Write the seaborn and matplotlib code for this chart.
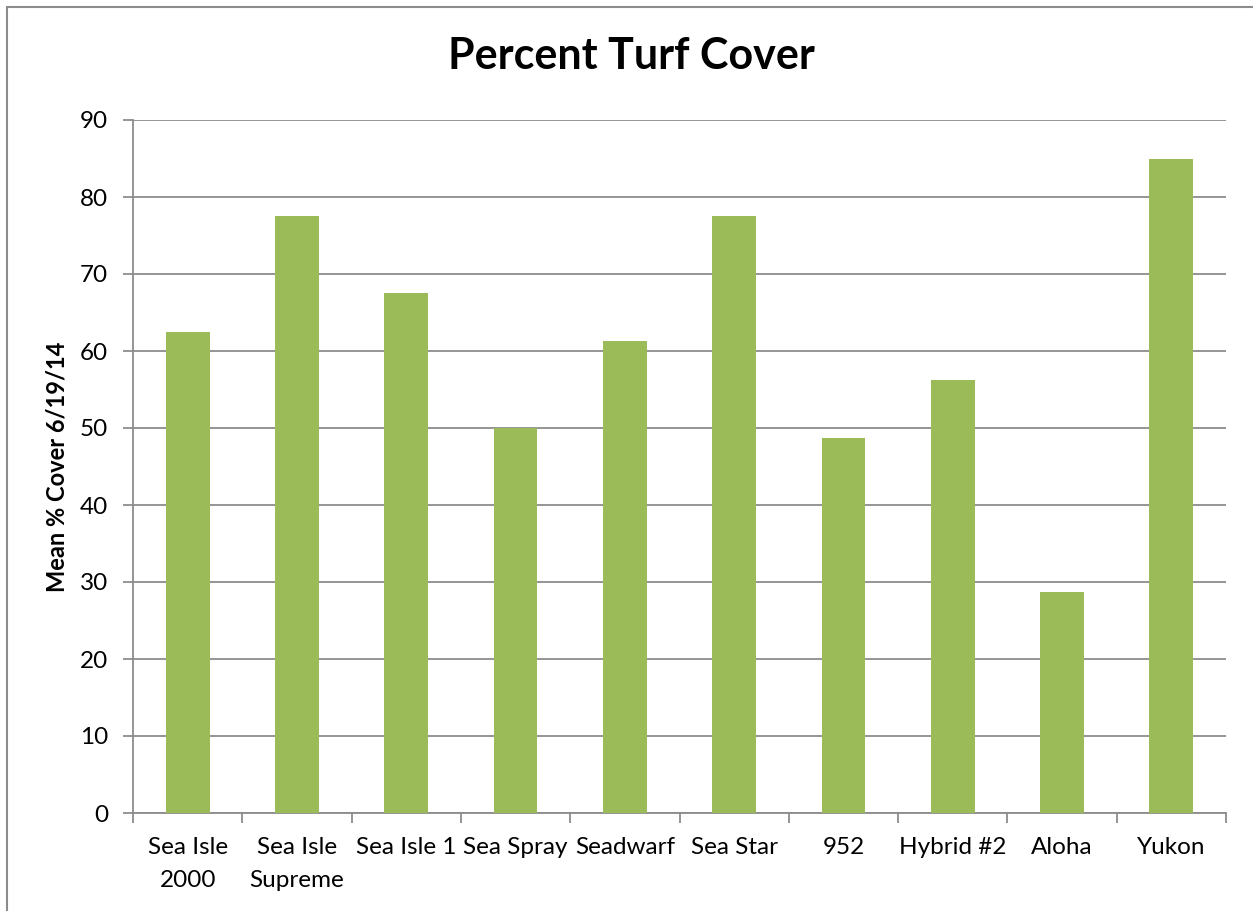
import matplotlib
matplotlib.use("Agg")
import matplotlib.pyplot as plt
import seaborn as sns
import pandas as pd
from matplotlib.patches import Rectangle
from matplotlib.ticker import FixedLocator

categories = ["Sea Isle\n2000", "Sea Isle\nSupreme", "Sea Isle 1", "Sea Spray", "Seadwarf",
              "Sea Star", "952", "Hybrid #2", "Aloha", "Yukon"]
values = [62.5, 77.5, 67.5, 50.0, 61.25, 77.5, 48.75, 56.25, 28.75, 85.0]
yticks = [0, 10, 20, 30, 40, 50, 60, 70, 80, 90]

title = "Percent Turf Cover"
ylabel = "Mean % Cover 6/19/14"

sns.set_theme(style="white")
plt.rcParams["font.family"] = ["Lato", "DejaVu Sans"]

W, H = 1253, 911
fig = plt.figure(figsize=(W / 100, H / 100), dpi=100)
ax = fig.add_axes([133 / W, (H - 813) / H, (1226 - 133) / W, (813 - 120) / H])

df = pd.DataFrame({"cat": categories, "val": values})
sns.barplot(data=df, x="cat", y="val", color="#9BBB59", saturation=1, width=0.4, ax=ax,
            zorder=3, linewidth=0)

ax.set_xlim(-0.5, len(categories) - 0.5)
ax.set_ylim(0, 90)
ax.set_yticks(yticks)
ax.yaxis.grid(True, color="#8c8c8c", linewidth=1.3, zorder=0)
ax.set_axisbelow(True)

for s in ["top", "right"]:
    ax.spines[s].set_visible(False)
for s in ["left", "bottom"]:
    ax.spines[s].set_color("#8c8c8c")
    ax.spines[s].set_linewidth(1.3)

ax.tick_params(axis="y", which="major", length=7, width=1.3, color="#8c8c8c", left=True,
               labelsize=17.5, labelcolor="black", pad=11)
ax.set_xticks(range(len(categories)), labels=categories, linespacing=1.7)
ax.tick_params(axis="x", which="major", length=0, labelsize=17.5, labelcolor="black", pad=17)
ax.xaxis.set_minor_locator(FixedLocator([i - 0.5 for i in range(len(categories) + 1)]))
ax.tick_params(axis="x", which="minor", length=7, width=1.3, color="#8c8c8c", bottom=True)

ax.set_xlabel("")
ax.set_ylabel(ylabel, fontsize=17, fontweight="bold", color="black", labelpad=8)
fig.text(631 / W, 1 - 56 / H, title, ha="center", va="center", fontsize=31, fontweight="bold", color="black")

fig.patches.append(Rectangle((7 / W, -0.1), 1.2, (H - 7) / H + 0.1, transform=fig.transFigure,
                             fill=False, edgecolor="#8c8c8c", linewidth=1.5))

fig.savefig("out.png", dpi=100)
